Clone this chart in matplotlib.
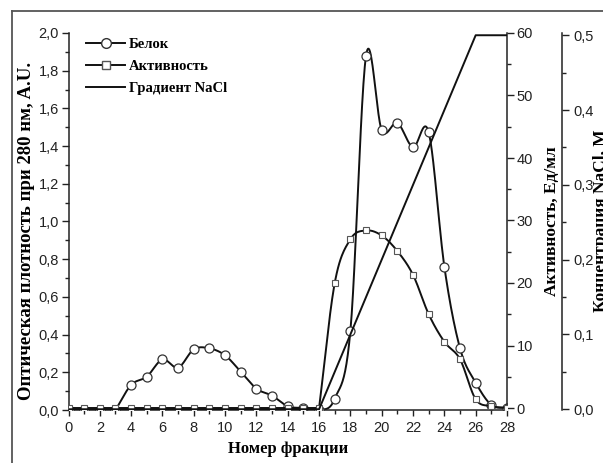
import numpy as np
import matplotlib
matplotlib.use('Agg')
import matplotlib.pyplot as plt
from matplotlib.lines import Line2D
from matplotlib.ticker import MultipleLocator, FuncFormatter

plt.rcParams['font.family'] = 'Liberation Sans'
plt.rcParams['font.size'] = 10.5

# номера фракций и измеренные значения
fractions = list(range(29))
protein = [0.0, 0.0, 0.0, 0.0, 0.133, 0.177, 0.268, 0.225, 0.322, 0.327,
           0.29, 0.203, 0.113, 0.076, 0.02, 0.01, 0.0, 0.06, 0.42, 1.88,
           1.485, 1.523, 1.394, 1.473, 0.76, 0.327, 0.145, 0.027, 0.01]
activity = [0.0] * 17 + [20.0, 27.0, 28.4, 27.6, 25.1, 21.3, 15.0, 10.6,
                         7.8, 1.4, 0.3, 0.0]
nacl_x = [0, 16, 26, 28]
nacl = [0.0, 0.0, 0.5, 0.5]

serif = dict(family='Liberation Serif', weight='bold')


def smooth(x, y, n=25):
    # кубический эрмитов сплайн, плоские участки остаются прямыми
    x = np.asarray(x, float)
    y = np.asarray(y, float)
    d = np.diff(y) / np.diff(x)
    m = np.zeros_like(y)
    m[0], m[-1] = d[0], d[-1]
    for i in range(1, len(y) - 1):
        if d[i - 1] == 0 or d[i] == 0:
            m[i] = d[i - 1] + d[i]
        else:
            m[i] = (d[i - 1] + d[i]) / 2
    t = np.linspace(0, 1, n)
    xs, ys = [], []
    for i in range(len(x) - 1):
        h = x[i + 1] - x[i]
        if d[i] == 0:
            seg = np.full(n, y[i])
        else:
            seg = ((2*t**3 - 3*t**2 + 1) * y[i] + (t**3 - 2*t**2 + t) * h * m[i]
                   + (-2*t**3 + 3*t**2) * y[i + 1] + (t**3 - t**2) * h * m[i + 1])
        xs.append(x[i] + t * h)
        ys.append(seg)
    return np.concatenate(xs), np.concatenate(ys)


W, H = 603, 463
fig = plt.figure(figsize=(W / 100, H / 100), dpi=100)
ax = fig.add_axes([68.5 / W, 1 - 410 / H, 438.5 / W, 377 / H])
ax2 = ax.twinx()
ax3 = ax.twinx()

comma = lambda fmt: FuncFormatter(lambda v, p: (fmt % v).replace('.', ','))

# белок
sx, sy = smooth(fractions, protein)
ax.plot(sx, sy, color='#111111', lw=1.4, zorder=2)
ax.plot(fractions, protein, 'o', ms=6.5, mfc='white', mec='#333333', mew=0.9, zorder=3)
ax.set_xlim(0, 28)
ax.set_ylim(0, 2.0)
ax.xaxis.set_major_locator(MultipleLocator(2))
ax.xaxis.set_minor_locator(MultipleLocator(1))
ax.yaxis.set_major_locator(MultipleLocator(0.2))
ax.yaxis.set_minor_locator(MultipleLocator(0.1))
ax.yaxis.set_major_formatter(comma('%.1f'))
ax.spines['top'].set_visible(False)
ax.spines['right'].set_visible(False)
ax.tick_params(which='both', direction='out', width=1, colors='#222222')
ax.tick_params(axis='y', which='major', length=5, pad=2)
ax.tick_params(axis='y', which='minor', length=3)
ax.tick_params(axis='x', which='major', length=4, pad=4)
ax.tick_params(axis='x', which='minor', length=3)

# активность
ax2x, ax2y = smooth(fractions, activity)
ax2.plot(ax2x, ax2y, color='#111111', lw=1.4, zorder=2)
ax2.plot(fractions, activity, 's', ms=5, mfc='white', mec='#555555', mew=0.8, zorder=3)
ax2.set_ylim(-0.32, 60)
ax2.yaxis.set_major_locator(MultipleLocator(10))
ax2.yaxis.set_minor_locator(MultipleLocator(5))
for s in ('left', 'top', 'bottom'):
    ax2.spines[s].set_visible(False)
ax2.tick_params(which='both', direction='out', width=1, colors='#222222')
ax2.tick_params(which='major', length=5, pad=2)
ax2.tick_params(which='minor', length=3)

# градиент NaCl
ax3.plot(nacl_x, nacl, color='#111111', lw=1.4, zorder=2)
ax3.set_ylim(-0.001, 0.503)
ax3.spines['right'].set_position(('axes', (562 - 68.5) / 438.5))
for s in ('left', 'top', 'bottom'):
    ax3.spines[s].set_visible(False)
ax3.yaxis.set_major_locator(MultipleLocator(0.1))
ax3.yaxis.set_minor_locator(MultipleLocator(0.05))
ax3.yaxis.set_major_formatter(comma('%.1f'))
ax3.tick_params(which='both', direction='out', width=1, colors='#222222')
ax3.tick_params(which='major', length=5, pad=3)
ax3.tick_params(which='minor', length=3)

for a in (ax, ax2, ax3):
    for sp in a.spines.values():
        sp.set_linewidth(1.1)
        sp.set_color('#222222')

# подписи осей
fig.text(288 / W, 1 - 449 / H, 'Номер фракции', ha='center', va='center', fontsize=12, **serif)
fig.text(27 / W, 1 - 231 / H, 'Оптическая плотность при 280 нм, A.U.', rotation=90,
         ha='center', va='center', fontsize=13.5, **serif)
fig.text(552 / W, 1 - 221 / H, 'Активность, Ед/мл', rotation=90,
         ha='center', va='center', fontsize=12.5, **serif)
fig.text(601 / W, 1 - 221 / H, 'Концентрация NaCl, M', rotation=90,
         ha='center', va='center', fontsize=12.5, **serif)

handles = [
    Line2D([], [], color='#111111', lw=1.4, marker='o', ms=7, mfc='white', mec='#333333'),
    Line2D([], [], color='#111111', lw=1.4, marker='s', ms=5.5, mfc='white', mec='#555555'),
    Line2D([], [], color='#111111', lw=1.4),
]
labels = ['Белок', 'Активность', 'Градиент NaCl']
ax3.legend(handles, labels, loc='upper left', bbox_to_anchor=(86 / W, 1 - 38 / H),
           bbox_transform=fig.transFigure, frameon=False, borderpad=0, borderaxespad=0,
           handlelength=2.7, handletextpad=0.25, labelspacing=0.6, numpoints=1,
           prop=dict(family='Liberation Serif', weight='bold', size=10.5))

# рамка вокруг рисунка
fig.add_artist(Line2D([12 / W, 12 / W], [0, 1 - 11 / H], transform=fig.transFigure,
                      color='#555555', lw=1.3))
fig.add_artist(Line2D([12 / W, 1], [1 - 11 / H, 1 - 11 / H], transform=fig.transFigure,
                      color='#555555', lw=1.3))

fig.savefig('out.png', dpi=100)
